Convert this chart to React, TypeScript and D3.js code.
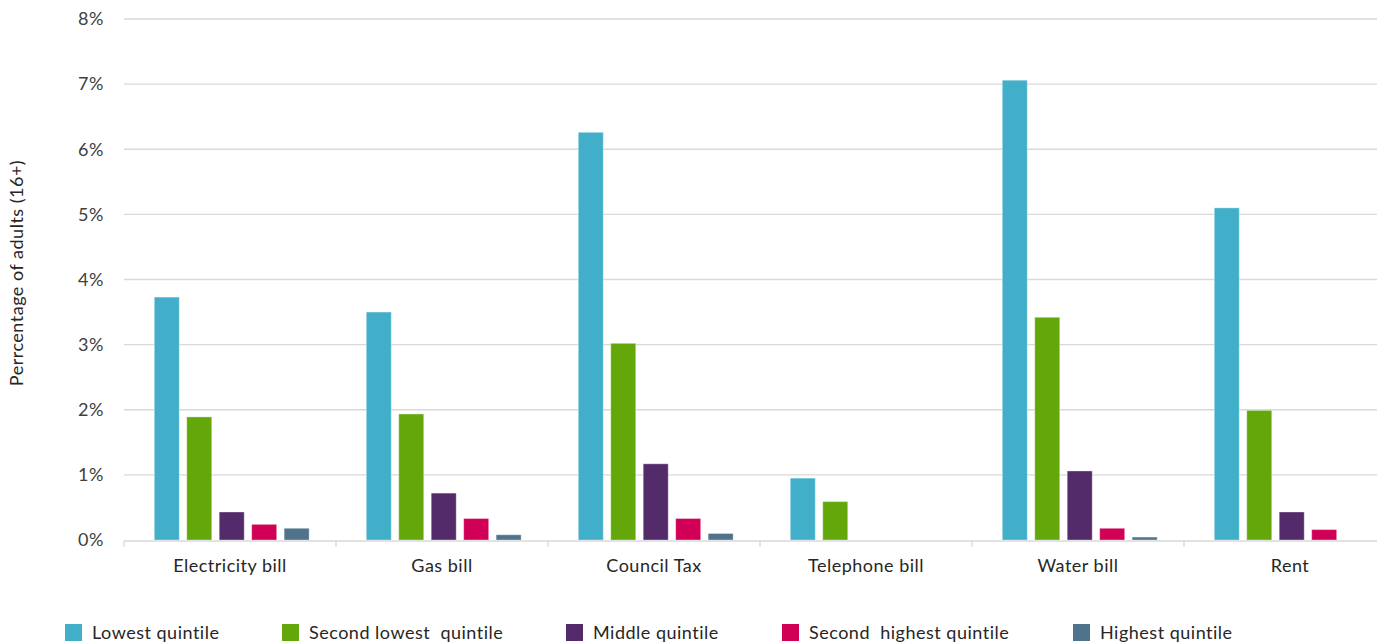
import React from "react";
import * as d3 from "d3";

const categories = ["Electricity bill", "Gas bill", "Council Tax", "Telephone bill", "Water bill", "Rent"];
const seriesNames = ["Lowest quintile", "Second lowest  quintile", "Middle quintile", "Second  highest quintile", "Highest quintile"];
const seriesColors = ["#41AFC9", "#63A70B", "#532B6B", "#D10056", "#4F738A"];
const lowest = [3.73, 3.5, 6.26, 0.95, 7.06, 5.1];
const secondLowest = [1.89, 1.935, 3.02, 0.59, 3.42, 1.99];
const middle = [0.43, 0.72, 1.17, 0, 1.06, 0.43];
const secondHighest = [0.24, 0.33, 0.33, 0, 0.18, 0.16];
const highest = [0.18, 0.08, 0.1, 0, 0.045, 0];
const seriesValues = [lowest, secondLowest, middle, secondHighest, highest];
const yTicks = [0, 1, 2, 3, 4, 5, 6, 7, 8];

const W = 1381;
const H = 643;
const left = 124;
const catWidth = 212;
const plotRight = 1377;
const y0 = 540;
const y8 = 19;
const legendX = [65, 282, 566, 782, 1073];
const font = "Lato, 'Open Sans', sans-serif";
const fs = 18;
const ls = 0.5;

export default function App() {
  const x = d3.scaleBand<string>().domain(categories).range([left, left + catWidth * categories.length]).padding(0);
  const xs = d3
    .scaleBand<number>()
    .domain(d3.range(seriesNames.length))
    .range([0, x.bandwidth()])
    .paddingInner(0.23)
    .paddingOuter(0.88)
    .align(0.53);
  const y = d3.scaleLinear().domain([0, 8]).range([y0, y8]);

  return (
    <svg width={W} height={H} style={{ position: "absolute", left: 0, top: 0, background: "#fff" }} fontFamily={font}>
      {yTicks.map((t) => (
        <g key={t}>
          {t > 0 && (
            <line x1={left} x2={plotRight} y1={y(t)} y2={y(t)} stroke="#d9d9d9" strokeWidth={1.3} />
          )}
          <text x={104} y={y(t)} dy="0.35em" textAnchor="end" fontSize={fs} letterSpacing={ls} fill="#404040">
            {t}%
          </text>
        </g>
      ))}
      {categories.map((c, ci) => (
        <g key={c}>
          {seriesValues.map((vals, si) => {
            const v = vals[ci];
            if (v <= 0) return null;
            const bx = (x(c) as number) + (xs(si) as number);
            const by = y(v);
            return (
              <rect
                key={si}
                x={bx}
                y={by}
                width={xs.bandwidth()}
                height={y0 - by}
                fill={seriesColors[si]}
                stroke="#ffffff"
                strokeOpacity={0.35}
                strokeWidth={1}
              />
            );
          })}
          <text
            x={(x(c) as number) + x.bandwidth() / 2}
            y={572}
            textAnchor="middle"
            fontSize={fs}
            letterSpacing={ls}
            fill="#262626"
          >
            {c}
          </text>
        </g>
      ))}
      <line x1={left} x2={plotRight} y1={y0 + 1} y2={y0 + 1} stroke="#d9d9d9" strokeWidth={1.3} />
      {categories.map((c) => (
        <line key={c} x1={x(c) as number} x2={x(c) as number} y1={y0 + 1} y2={y0 + 7} stroke="#d9d9d9" strokeWidth={1.3} />
      ))}
      <text
        transform={`translate(23, ${273}) rotate(-90)`}
        textAnchor="middle"
        fontSize={fs}
        letterSpacing={ls}
        fill="#262626"
      >
        Perrcentage of adults (16+)
      </text>
      {seriesNames.map((s, i) => (
        <g key={s}>
          <rect x={legendX[i]} y={624} width={17} height={17} fill={seriesColors[i]} />
          <text x={legendX[i] + 27} y={632.5} dy="0.35em" fontSize={fs} letterSpacing={ls} fill="#262626" style={{ whiteSpace: "pre" }}>
            {s}
          </text>
        </g>
      ))}
    </svg>
  );
}
